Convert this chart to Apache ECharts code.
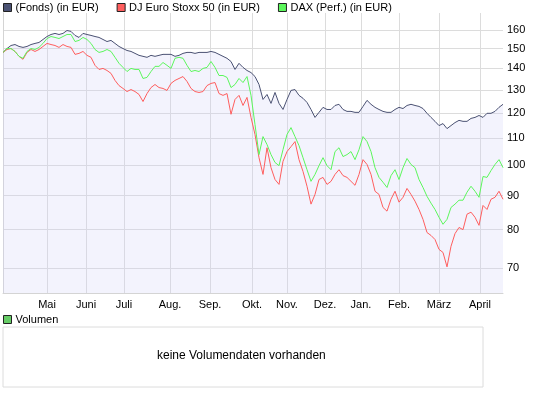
<!DOCTYPE html>
<html><head><meta charset="utf-8">
<script src="https://cdn.jsdelivr.net/npm/echarts@6/dist/echarts.min.js"></script>
<style>html,body{margin:0;padding:0;background:#fff}#c{width:545px;height:395px}</style>
</head><body><div id="c"></div>
<script>
// Trading-day samples (values in EUR-indexed terms)
const fonds=[148.0,150.0,151.6,152.1,151.1,150.6,151.1,152.1,152.7,153.2,154.8,156.4,157.5,158.1,157.5,158.1,159.7,159.2,157.0,155.9,158.1,157.5,157.0,156.4,155.9,154.8,153.7,154.3,152.7,151.1,150.0,149.0,148.5,147.5,146.5,146.0,145.5,146.5,146.0,146.5,147.0,147.0,147.0,146.0,146.5,147.5,148.0,148.0,147.5,148.0,148.0,148.0,148.5,148.0,147.0,146.0,145.0,143.4,139.5,142.5,140.5,139.0,138.0,136.1,132.4,125.7,127.9,124.0,128.8,124.0,121.4,125.7,129.7,130.1,127.5,126.2,124.4,121.4,118.1,120.2,122.3,121.4,121.4,123.1,123.6,121.4,120.6,120.6,120.2,120.2,122.7,125.3,123.6,122.3,121.4,120.6,120.2,120.2,121.4,122.3,121.8,123.1,123.6,123.1,122.7,121.8,119.8,118.1,116.5,114.8,115.6,113.6,114.8,116.0,116.9,116.5,116.5,117.7,118.1,118.9,118.1,119.8,119.8,120.6,122.3,123.6];
const stoxx=[148.0,149.5,150.0,148.5,146.0,144.5,148.0,149.5,148.5,149.5,151.1,152.7,152.1,151.6,150.6,152.1,151.1,150.6,147.0,147.5,148.5,146.5,145.5,141.5,139.5,140.0,139.0,137.6,134.3,131.9,130.6,129.2,130.1,129.2,127.9,124.8,128.3,131.0,132.4,131.0,130.6,129.7,132.9,134.3,135.2,136.1,133.8,130.6,129.2,128.8,129.2,131.9,132.9,133.3,128.3,127.5,128.3,119.4,125.7,127.5,123.1,126.6,118.1,111.3,102.7,96.9,106.3,99.2,95.2,93.6,101.4,104.9,106.7,108.6,102.0,97.9,93.0,87.4,90.4,95.2,95.9,93.6,94.6,96.9,98.5,96.5,95.9,94.6,93.3,96.9,102.0,100.3,96.9,91.4,90.4,86.4,85.3,88.9,91.4,88.0,89.5,92.3,90.4,88.3,85.8,82.9,79.2,78.4,77.3,74.7,73.9,70.3,75.5,78.9,80.6,80.0,84.4,85.0,83.5,81.2,87.0,85.8,88.9,89.5,91.4,88.9];
const dax=[148.0,150.0,150.0,148.5,146.0,145.0,148.5,150.0,149.5,150.6,152.7,155.3,156.4,155.9,155.3,156.4,157.5,157.5,153.7,154.3,155.9,154.8,152.7,149.5,148.0,148.5,149.5,148.5,145.5,142.5,140.5,138.5,140.0,139.5,139.5,135.2,135.7,138.5,141.0,141.0,142.9,141.5,140.0,145.0,145.5,145.0,141.5,138.5,139.0,138.5,140.0,140.5,143.4,140.5,136.6,136.6,135.7,131.0,132.4,135.2,133.3,136.1,127.5,115.2,103.8,110.5,107.5,103.8,101.0,99.9,105.6,111.3,114.0,110.5,107.1,102.7,98.5,94.6,96.9,99.9,102.7,99.9,98.5,104.9,106.3,103.1,103.8,104.9,102.0,105.6,110.5,108.6,104.9,99.2,95.9,94.3,92.6,96.5,98.5,95.2,99.2,102.4,100.3,99.2,95.2,92.6,89.8,87.7,85.8,83.5,81.5,82.9,86.4,87.4,88.6,88.6,91.1,93.0,91.4,89.5,96.2,95.9,98.2,100.3,102.0,99.2];
// Month boundaries on the trading-day scale and their labels
const monthLabels=['Mai','Juni','Juli','Aug.','Sep.','Okt.','Nov.','Dez.','Jan.','Feb.','März','April'];
const monthPos=[11,20.75,30.25,41.75,51.75,62.25,71,80.5,89.5,99,109,119.25];
const yTicks=[70,80,90,100,110,120,130,140,150,160];
const seriesNames=['(Fonds) (in EUR)','DJ Euro Stoxx 50 (in EUR)','DAX (Perf.) (in EUR)'];

const FONT='"Liberation Sans", Arial, sans-serif';
const chart=echarts.init(document.getElementById('c'),null,{renderer:'canvas'});
const pairs=a=>a.map((v,i)=>[i,v]);
chart.setOption({
  animation:false,
  backgroundColor:'#fff',
  textStyle:{fontFamily:FONT,fontSize:11,color:'#000'},
  legend:[{
    left:3,top:2,padding:0,itemGap:18,itemWidth:8,itemHeight:8,icon:'rect',
    itemStyle:{borderColor:'#222',borderWidth:1},
    textStyle:{fontFamily:FONT,fontSize:11,color:'#000',padding:[0,0,0,-1]},
    data:seriesNames
  },{
    left:3,top:314,padding:0,itemWidth:8,itemHeight:8,icon:'rect',
    itemStyle:{borderColor:'#222',borderWidth:1},
    textStyle:{fontFamily:FONT,fontSize:11,color:'#000',padding:[0,0,0,-1]},
    data:['Volumen']
  }],
  grid:[
    {left:3,top:13,width:500,height:280,show:false},
    {left:3,top:327,width:480,height:60,show:true,borderColor:'#dcdcdc',borderWidth:1,backgroundColor:'#fff'}
  ],
  xAxis:[{
    type:'value',gridIndex:0,min:0,max:fonds.length-1,
    axisLine:{show:true,lineStyle:{color:'#d4d4d4'}},
    axisTick:{show:false,customValues:monthPos},
    axisLabel:{customValues:monthPos,margin:6,color:'#000',fontSize:11,fontFamily:FONT,
      formatter:v=>monthLabels[monthPos.indexOf(v)]},
    splitLine:{show:true,lineStyle:{color:'#dcdcdc',width:1}}
  },{
    type:'category',gridIndex:1,show:false,data:['']
  }],
  yAxis:[{
    type:'log',logBase:10,gridIndex:0,position:'right',min:64.2,max:169.7,
    axisLine:{show:true,lineStyle:{color:'#d4d4d4'}},
    axisTick:{show:false,customValues:yTicks},
    axisLabel:{customValues:yTicks,margin:4,color:'#000',fontSize:11,fontFamily:FONT},
    splitLine:{show:true,lineStyle:{color:'#dcdcdc',width:1}}
  },{
    type:'value',gridIndex:0,position:'left',
    axisLine:{show:true,lineStyle:{color:'#d4d4d4'}},
    axisTick:{show:false},axisLabel:{show:false},splitLine:{show:false}
  },{
    type:'value',gridIndex:1,show:false
  }],
  series:[{
    name:seriesNames[0],type:'line',xAxisIndex:0,yAxisIndex:0,data:pairs(fonds),
    symbol:'none',color:'#4b5273',lineStyle:{width:1,color:'#4b5273'},
    areaStyle:{color:'rgb(207,207,247)',opacity:0.25,origin:'start'},z:2
  },{
    name:seriesNames[1],type:'line',xAxisIndex:0,yAxisIndex:0,data:pairs(stoxx),
    symbol:'none',color:'#ff5e5e',lineStyle:{width:1,color:'#ff5e5e'},z:3
  },{
    name:seriesNames[2],type:'line',xAxisIndex:0,yAxisIndex:0,data:pairs(dax),
    symbol:'none',color:'#5cf75c',lineStyle:{width:1,color:'#5cf75c'},z:4
  },{
    name:'Volumen',type:'bar',xAxisIndex:1,yAxisIndex:2,data:[],color:'#66cc66'
  }],
  graphic:[{
    type:'text',left:157,top:350,
    style:{text:'keine Volumendaten vorhanden',font:'12px '+FONT,fill:'#000'}
  }]
});
</script>
</body></html>
